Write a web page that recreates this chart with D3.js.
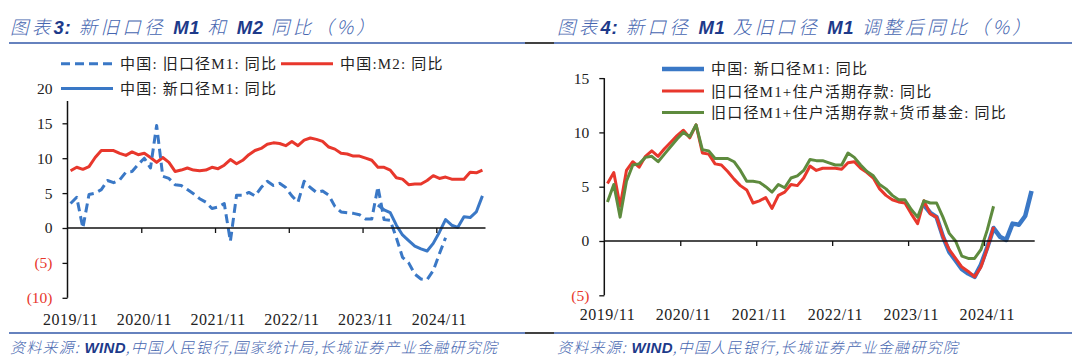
<!DOCTYPE html>
<html><head><meta charset="utf-8">
<script src="https://cdn.jsdelivr.net/npm/d3@7"></script>
<style>
body{margin:0;background:#fff;}
svg{display:block;}
</style></head>
<body>
<svg id="c" width="1080" height="361"></svg>
<script>
// ---------- DATA ----------
const startMonth = new Date(2019, 10, 1); // 2019/11
const months = d3.timeMonth.range(startMonth, new Date(2025, 6, 1)).map(d3.timeFormat("%Y/%m")); // 2019/11 .. 2025/06
const tickLabels = ["2019/11","2020/11","2021/11","2022/11","2023/11","2024/11"];

// Chart 3
const m1Old = [3.5,4.4,0.0,4.8,5.0,5.5,6.8,6.5,6.9,8.0,8.1,9.1,
  10.0,8.6,14.7,7.4,7.1,6.2,6.1,5.5,4.9,4.2,3.7,2.8,
  3.0,3.5,-1.9,4.7,4.7,5.1,4.6,5.8,6.7,6.1,6.4,5.8,
  4.6,3.7,6.7,5.8,5.1,5.3,4.7,3.1,2.3,2.2,2.1,1.9,
  1.3,1.3,5.9,1.2,1.1,-1.4,-4.2,-5.0,-6.6,-7.3,-7.4,-6.1,
  -3.7,-1.4];
const m2 = [8.2,8.7,8.4,8.8,10.1,11.1,11.1,11.1,10.7,10.4,10.9,10.5,
  10.7,10.1,9.4,10.1,9.4,8.1,8.3,8.6,8.3,8.2,8.3,8.7,
  8.5,9.0,9.8,9.2,9.7,10.5,11.1,11.4,12.0,12.2,12.1,11.8,
  12.4,11.8,12.6,12.9,12.7,12.4,11.6,11.3,10.7,10.6,10.3,10.3,
  10.0,9.7,8.7,8.7,8.3,7.2,7.0,6.2,6.3,6.3,6.8,7.5,
  7.1,7.3,7.0,7.0,7.0,8.0,7.9,8.3];
const m1NewStart = "2024/01";
const m1New = [3.3,2.6,2.2,0.4,-1.0,-1.8,-2.6,-3.0,-3.3,-2.2,-0.6,1.2,
  0.4,0.1,1.6,1.5,2.3,4.6];

// Chart 4
const m1PlusDemand = [5.3,6.3,3.2,6.5,7.3,6.8,7.8,8.3,7.8,8.5,9.1,9.7,
  10.2,9.5,10.7,8.1,8.0,7.1,7.0,6.4,5.7,5.1,4.7,3.5,
  3.7,4.0,3.0,4.2,4.5,5.2,5.1,5.8,6.9,6.5,6.7,6.7,
  6.7,6.6,7.2,7.3,6.7,6.3,5.8,4.8,4.2,3.8,3.6,3.5,
  2.5,1.6,3.7,2.5,2.2,0.4,-0.8,-1.6,-2.4,-2.8,-3.3,-2.4,
  -0.7,1.3];
const m1PlusDemandMMF = [3.6,5.2,2.2,5.5,7.0,7.1,7.7,7.8,7.3,8.0,8.7,9.4,
  10.0,9.6,10.7,8.4,8.3,7.6,7.6,7.6,7.3,6.5,5.5,5.5,
  5.4,5.0,4.5,5.2,4.9,5.8,6.0,6.5,7.5,7.4,7.4,7.2,
  7.0,7.0,8.1,7.7,7.0,6.4,6.0,5.2,4.8,4.2,3.8,3.8,
  2.9,2.2,3.7,3.5,3.5,2.2,0.7,0.0,-1.4,-1.6,-1.6,-0.8,
  1.0,3.2];

const yTicks3 = [-10,-5,0,5,10,15,20];
const yTicks4 = [-5,0,5,10,15];

// ---------- DRAW ----------
const svg = d3.select("#c");
const BLUE = "#3a78c6", RED = "#e8372c", GREEN = "#5e8b3e";
const TITLE_BLUE = "#4666b0", TITLE_DARK = "#1d3a8a";
const serif = "'Liberation Serif','Noto Sans CJK SC',serif";
const cjk = "'Liberation Serif','Noto Sans CJK SC',sans-serif";

function series(values, startLabel){
  const s = months.indexOf(startLabel);
  return values.map((v,i)=>({k:s+i, v}));
}

// header/footer rules
[43,333].forEach(y=>{
  svg.append("line").attr("x1",9).attr("x2",525).attr("y1",y).attr("y2",y).attr("stroke","#3358a8").attr("stroke-width",1.6);
  svg.append("line").attr("x1",525).attr("x2",554).attr("y1",y).attr("y2",y).attr("stroke","#111").attr("stroke-width",1.6);
  svg.append("line").attr("x1",554).attr("x2",1072).attr("y1",y).attr("y2",y).attr("stroke","#3358a8").attr("stroke-width",1.6);
});

function title(x, y, parts){
  const t = svg.append("text").attr("x",x).attr("y",y)
    .attr("font-family","'Noto Sans CJK SC',sans-serif").attr("font-size",18.5)
    .attr("font-style","italic").attr("letter-spacing",3.3);
  parts.forEach(p=>{
    t.append("tspan").text(p[0])
      .attr("fill", p[1] ? TITLE_DARK : TITLE_BLUE)
      .attr("font-weight", p[1] ? "bold" : 300)
      .attr("letter-spacing", p[1] ? 0.6 : null)
      .attr("font-family", p[1] ? "'Liberation Sans','Noto Sans CJK SC',sans-serif" : null);
  });
}
title(10, 34, [["图表",0],["3:",1],["  新旧口径 ",0],["M1",1],[" 和 ",0],["M2",1],[" 同比（%）",0]]);
title(557, 34, [["图表",0],["4:",1],["  新口径 ",0],["M1",1],[" 及旧口径 ",0],["M1",1],[" 调整后同比（%）",0]]);

function source(x, y, parts){
  const t = svg.append("text").attr("x",x).attr("y",y)
    .attr("font-family","'Noto Sans CJK SC',sans-serif").attr("font-size",15)
    .attr("font-style","italic").attr("letter-spacing",1.25);
  parts.forEach(p=>{
    t.append("tspan").text(p[0])
      .attr("fill", p[1] ? TITLE_DARK : TITLE_BLUE)
      .attr("font-weight", p[1] ? "bold" : 300)
      .attr("letter-spacing", p[1] ? 0.3 : null)
      .attr("font-family", p[1] ? "'Liberation Sans',sans-serif" : null);
  });
}
source(10, 353, [["资料来源: ",0],["WIND",1],[",中国人民银行,国家统计局,长城证券产业金融研究院",0]]);
source(557, 353, [["资料来源: ",0],["WIND",1],[",中国人民银行,长城证券产业金融研究院",0]]);

function fmt(v){ return v<0 ? "("+Math.abs(v)+")" : String(v); }

function panel(cfg){
  const x = d3.scaleLinear().domain([-0.5, months.length-0.5]).range(cfg.xr);
  const y = d3.scaleLinear().domain(cfg.yd).range(cfg.yr);
  const g = svg.append("g");

  const line = d3.line().defined(d=>d.v!=null).x(d=>x(d.k)).y(d=>y(d.v));
  cfg.series.forEach(s=>{
    g.append("path").datum(s.data).attr("d",line).attr("fill","none")
      .attr("stroke",s.color).attr("stroke-width",s.w)
      .attr("stroke-dasharray",s.dash||null)
      .attr("stroke-linejoin","round");
  });

  // y axis
  const ya = d3.axisLeft(y).tickValues(cfg.yticks).tickSize(5).tickFormat(fmt);
  const yg = svg.append("g").attr("transform",`translate(${cfg.xr[0]},0)`).call(ya);
  yg.select(".domain").remove();
  yg.selectAll(".tick line").attr("stroke","#111").attr("stroke-width",1.3);
  yg.selectAll(".tick text").attr("font-family",serif).attr("font-size",15.5)
    .attr("fill",d=>d<0?"#e8372c":"#222").attr("x",-15);
  svg.append("line").attr("x1",cfg.xr[0]).attr("x2",cfg.xr[0])
    .attr("y1",y(cfg.yd[1])).attr("y2",y(cfg.yd[0])).attr("stroke","#111").attr("stroke-width",1.5);

  // x axis at zero
  const xa = d3.axisBottom(x).tickValues(tickLabels.map(l=>months.indexOf(l)-0.5).filter(v=>v>0))
    .tickSize(5).tickFormat("");
  const xg = svg.append("g").attr("transform",`translate(0,${y(0)})`).call(xa);
  xg.select(".domain").attr("stroke","#111").attr("stroke-width",1.5).attr("d",`M${cfg.xr[0]},0H${cfg.xr[1]}`);
  xg.selectAll(".tick line").attr("stroke","#111").attr("stroke-width",1.3);
  svg.append("g").selectAll("text").data(tickLabels).join("text")
    .attr("x",d=>x(months.indexOf(d))).attr("y",cfg.labelY)
    .attr("text-anchor","middle").attr("font-family",serif).attr("font-size",16)
    .attr("letter-spacing",0.5).attr("fill","#222").text(d=>d);

  // legend
  if(cfg.legendBg){
    svg.append("rect").attr("x",cfg.legendBg[0]).attr("y",cfg.legendBg[1])
      .attr("width",cfg.legendBg[2]).attr("height",cfg.legendBg[3]).attr("fill","#fff");
  }
  cfg.legend.forEach(l=>{
    svg.append("line").attr("x1",l.x).attr("x2",l.x+l.len).attr("y1",l.y).attr("y2",l.y)
      .attr("stroke",l.color).attr("stroke-width",l.w).attr("stroke-dasharray",l.dash||null);
    svg.append("text").attr("x",l.x+l.len+7).attr("y",l.y+5.5)
      .attr("font-family",cjk).attr("font-size",15).attr("letter-spacing",1.2)
      .attr("fill","#222").text(l.text);
  });
}

panel({
  xr:[67.5,485.5], yd:[-10,20], yr:[297.8,88.4], yticks:yTicks3, labelY:325,
  series:[
    {data:series(m2,"2019/11"), color:RED, w:3},
    {data:series(m1Old,"2019/11"), color:BLUE, w:3, dash:"9,5"},
    {data:series(m1New,m1NewStart), color:BLUE, w:3}
  ],
  legendBg:[56,50,400,51],
  legend:[
    {x:61,y:63.7,len:52,color:BLUE,w:3,dash:"9,5",text:"中国: 旧口径M1: 同比"},
    {x:281,y:63.7,len:52,color:RED,w:3,text:"中国:M2: 同比"},
    {x:61,y:88.6,len:52,color:BLUE,w:3,text:"中国: 新口径M1: 同比"}
  ]
});

panel({
  xr:[604.3,1034.7], yd:[-5,15], yr:[295.3,78.1], yticks:yTicks4, labelY:320,
  series:[
    {data:series(m1New,m1NewStart), color:BLUE, w:4.5},
    {data:series(m1PlusDemand,"2019/11"), color:RED, w:3},
    {data:series(m1PlusDemandMMF,"2019/11"), color:GREEN, w:3}
  ],
  legend:[
    {x:662,y:68.9,len:42,color:BLUE,w:4.5,text:"中国: 新口径M1: 同比"},
    {x:662,y:91,len:42,color:RED,w:3,text:"旧口径M1+住户活期存款: 同比"},
    {x:662,y:112.5,len:42,color:GREEN,w:3,text:"旧口径M1+住户活期存款+货币基金: 同比"}
  ]
});
</script>
</body></html>
